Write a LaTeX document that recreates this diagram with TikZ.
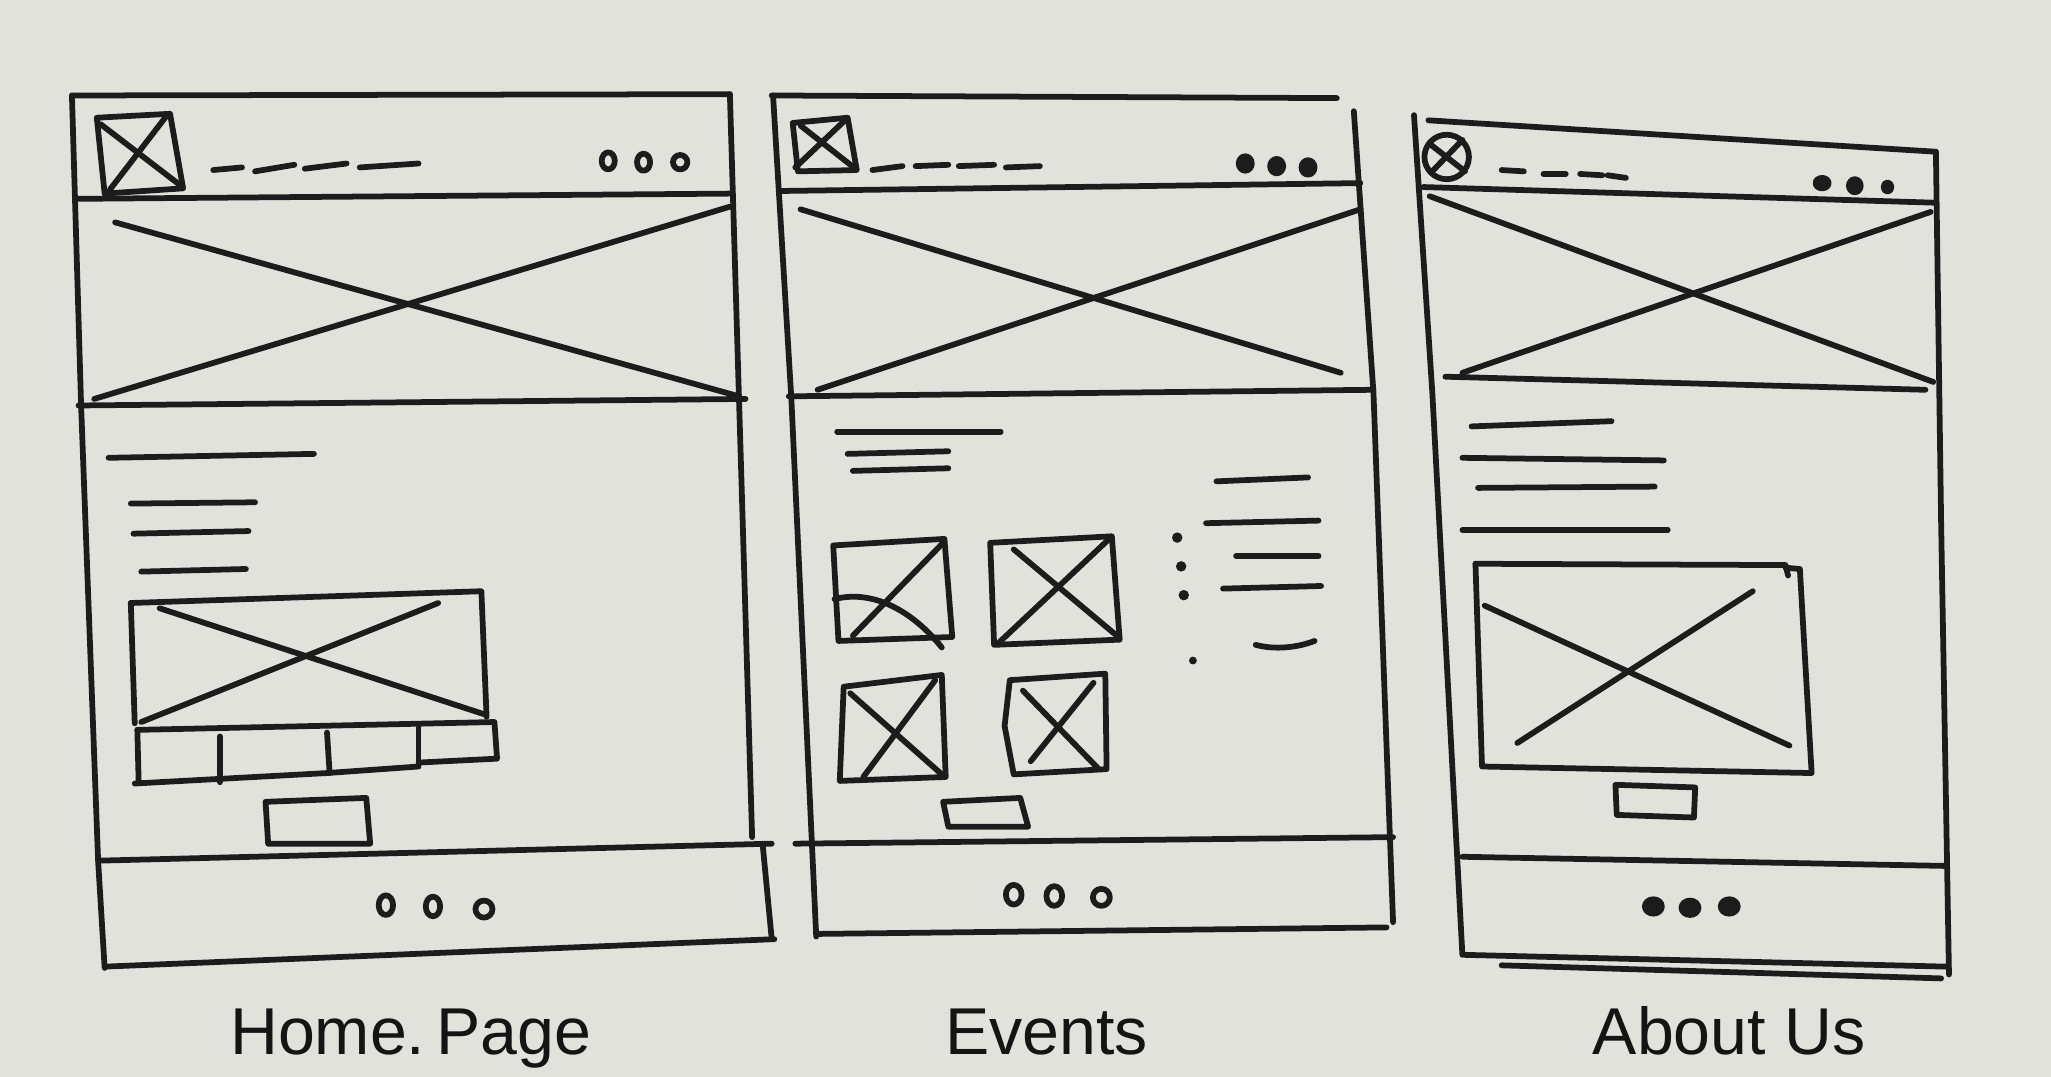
\documentclass[tikz,border=0pt]{standalone}
\usepackage{fontspec}
\setmainfont{Liberation Sans}

\tikzset{every picture/.style={line width=3.3pt}}
\tikzset{
  ink/.style={color={rgb, 255:red, 28; green, 28; blue, 28 }, draw opacity=1, line cap=round, line join=round},
  inkdot/.style={ink, fill={rgb, 255:red, 28; green, 28; blue, 28 }, fill opacity=1},
  pagelabel/.style={anchor=base, inner sep=0.75pt, font=\fontsize{38}{42}\selectfont, color={rgb, 255:red, 20; green, 20; blue, 20 }}
}

\begin{document}
\begin{tikzpicture}[x=0.75pt,y=0.75pt,yscale=-1,xscale=1]
%Paper [id:bg]
\fill [color={rgb, 255:red, 226; green, 226; blue, 221 }] (0,0) rectangle (1568,823) ;
\useasboundingbox (0,0) rectangle (1568,823) ;

%%%%%%%%%%%%%%%% Home page
%Shape: Frame [id:home_frame]
\draw [ink] (55,73) -- (558,72) ;
\draw [ink] (55,73) -- (62,310) -- (75,658) -- (80,740) ;
\draw [ink] (558,72) -- (575,640) ;
\draw [ink] (583,645) -- (590,718) ;
%Straight Lines [id:home_header]
\draw [ink] (60,152) -- (560,148) ;
%Shape: Logo [id:home_logo]
\draw [ink] (74,90) -- (130,87) -- (140,144) -- (80,148) -- cycle ;
\draw [ink] (77,95) -- (137,141) ;
\draw [ink] (127,89) -- (84,145) ;
%Straight Lines [id:home_menu]
\draw [ink] (163,130) -- (185,128) ;
\draw [ink] (195,131) -- (225,126) ;
\draw [ink] (233,129) -- (265,125) ;
\draw [ink] (275,128) -- (320,125) ;
%Shape: Ellipse [id:home_icons]
\draw [ink] (465,123) ellipse (5 and 6.5) ;
\draw [ink] (492,124) ellipse (5 and 6.5) ;
\draw [ink] (520,124) ellipse (5.5 and 5.5) ;
%Shape: Hero [id:home_hero]
\draw [ink] (88,170) -- (565,303) ;
\draw [ink] (558,158) -- (72,305) ;
\draw [ink] (60,310) -- (570,305) ;
%Straight Lines [id:home_text]
\draw [ink] (83,350) -- (240,347) ;
\draw [ink] (100,385) -- (195,384) ;
\draw [ink] (102,408) -- (190,406) ;
\draw [ink] (108,437) -- (188,435) ;
%Shape: Slider [id:home_slider]
\draw [ink] (100,461) -- (368,452) -- (372,548) ;
\draw [ink] (100,461) -- (103,553) ;
\draw [ink] (122,465) -- (370,546) ;
\draw [ink] (335,461) -- (108,552) ;
\draw [ink] (105,558) -- (378,552) -- (380,580) -- (320,583) ;
\draw [ink] (105,558) -- (106,598) ;
\draw [ink] (103,599) -- (250,591) -- (320,586) ;
\draw [ink] (168,563) -- (168,598) ;
\draw [ink] (250,560) -- (252,591) ;
\draw [ink] (320,556) -- (320,585) ;
%Shape: Button [id:home_button]
\draw [ink] (203,613) -- (280,610) -- (283,645) -- (205,645) -- cycle ;
%Shape: Footer [id:home_footer]
\draw [ink] (75,658) -- (590,645) ;
\draw [ink] (295,692) ellipse (5.5 and 7.5) ;
\draw [ink] (331,693) ellipse (5.5 and 7.5) ;
\draw [ink] (370,695) ellipse (6.5 and 6.5) ;
\draw [ink] (80,739) -- (592,718) ;

%%%%%%%%%%%%%%%% Events
%Shape: Frame [id:ev_frame]
\draw [ink] (590,73) -- (1022,75) ;
\draw [ink] (591,73) -- (605,305) -- (624,716) ;
\draw [ink] (1035,85) -- (1050,300) -- (1065,705) ;
\draw [ink] (624,714) -- (1060,709) ;
%Shape: Logo [id:ev_logo]
\draw [ink] (606,94) -- (648,90) -- (655,130) -- (610,131) -- cycle ;
\draw [ink] (608,128) -- (646,92) ;
\draw [ink] (612,96) -- (654,129) ;
%Straight Lines [id:ev_menu]
\draw [ink] (667,130) -- (690,127) ;
\draw [ink] (700,127) -- (725,126) ;
\draw [ink] (733,127) -- (760,126) ;
\draw [ink] (769,128) -- (795,127) ;
%Shape: Ellipse [id:ev_icons]
\draw [inkdot] (952,125) ellipse (5 and 5.5) ;
\draw [inkdot] (976,127) ellipse (5 and 5.5) ;
\draw [inkdot] (1000,128) ellipse (5 and 5.5) ;
%Straight Lines [id:ev_header]
\draw [ink] (598,146) -- (1040,140) ;
%Shape: Hero [id:ev_hero]
\draw [ink] (612,160) -- (1025,285) ;
\draw [ink] (1040,160) -- (625,298) ;
\draw [ink] (603,303) -- (1050,298) ;
%Straight Lines [id:ev_title]
\draw [ink] (640,330) -- (765,330) ;
\draw [ink] (648,347) -- (725,345) ;
\draw [ink] (652,360) -- (725,358) ;
%Straight Lines [id:ev_list]
\draw [ink] (930,368) -- (1000,365) ;
\draw [ink] (922,400) -- (1008,398) ;
\draw [ink] (945,425) -- (1008,425) ;
\draw [ink] (935,450) -- (1010,448) ;
\draw [ink] (960,493) .. controls (975,497) and (992,495) .. (1005,490) ;
%Shape: Ellipse [id:ev_bullets]
\fill [inkdot] (900,411) circle (4) ;
\fill [inkdot] (903,433) circle (4) ;
\fill [inkdot] (905,455) circle (4) ;
\fill [inkdot] (912,505) circle (3) ;
%Shape: Thumbs [id:ev_thumbs]
\draw [ink] (637,417) -- (722,412) -- (728,487) -- (641,490) -- cycle ;
\draw [ink] (722,414) -- (652,486) ;
\draw [ink] (638,458) .. controls (670,450) and (700,470) .. (720,495) ;
\draw [ink] (757,415) -- (850,410) -- (856,489) -- (760,493) -- cycle ;
\draw [ink] (775,420) -- (855,487) ;
\draw [ink] (848,412) -- (764,491) ;
\draw [ink] (645,525) -- (720,516) -- (723,594) -- (642,597) -- cycle ;
\draw [ink] (650,530) -- (720,592) ;
\draw [ink] (715,520) -- (660,594) ;
\draw [ink] (772,520) -- (845,515) -- (846,588) -- (775,592) -- (768,555) -- cycle ;
\draw [ink] (782,528) -- (840,588) ;
\draw [ink] (836,522) -- (788,582) ;
%Shape: Button [id:ev_button]
\draw [ink] (721,613) -- (780,610) -- (786,632) -- (725,632) -- cycle ;
%Shape: Footer [id:ev_footer]
\draw [ink] (608,645) -- (1065,640) ;
\draw [ink] (775,684) ellipse (6 and 7.5) ;
\draw [ink] (806,685) ellipse (6 and 7.5) ;
\draw [ink] (842,686) ellipse (6.5 and 6.5) ;

%%%%%%%%%%%%%%%% About us
%Shape: Frame [id:ab_frame]
\draw [ink] (1081,88) -- (1095,300) -- (1118,730) ;
\draw [ink] (1092,92) -- (1480,116) ;
\draw [ink] (1480,116) -- (1484,400) -- (1490,745) ;
%Shape: Logo [id:ab_logo]
\draw [ink] (1106,120) circle (17) ;
\draw [ink] (1093,110) -- (1120,131) ;
\draw [ink] (1118,107) -- (1094,132) ;
%Straight Lines [id:ab_menu]
\draw [ink] (1148,130) -- (1165,131) ;
\draw [ink] (1180,133) -- (1197,133) ;
\draw [ink] (1208,133) -- (1225,134) ;
\draw [ink] (1229,134) -- (1243,136) ;
%Shape: Ellipse [id:ab_icons]
\draw [inkdot] (1393,140) ellipse (5 and 4) ;
\draw [inkdot] (1418,142) ellipse (4.5 and 5) ;
\draw [inkdot] (1443,143) ellipse (3 and 3.5) ;
%Straight Lines [id:ab_header]
\draw [ink] (1088,143) -- (1480,155) ;
%Shape: Hero [id:ab_hero]
\draw [ink] (1093,150) -- (1478,292) ;
\draw [ink] (1476,162) -- (1118,285) ;
\draw [ink] (1105,288) -- (1472,298) ;
%Straight Lines [id:ab_text]
\draw [ink] (1125,326) -- (1232,322) ;
\draw [ink] (1118,350) -- (1272,352) ;
\draw [ink] (1130,373) -- (1265,372) ;
\draw [ink] (1118,405) -- (1275,405) ;
%Shape: Picture [id:ab_picture]
\draw [ink] (1128,431) -- (1365,432) -- (1367,440) ;
\draw [ink] (1128,431) -- (1133,586) -- (1385,591) -- (1376,435) -- (1365,434) ;
\draw [ink] (1135,463) -- (1368,570) ;
\draw [ink] (1340,452) -- (1160,568) ;
%Shape: Button [id:ab_button]
\draw [ink] (1235,600) -- (1296,602) -- (1295,625) -- (1236,623) -- cycle ;
%Shape: Footer [id:ab_footer]
\draw [ink] (1118,655) -- (1487,662) ;
\draw [inkdot] (1264,693) ellipse (6.5 and 5.5) ;
\draw [inkdot] (1292,694) ellipse (6.5 and 5.5) ;
\draw [inkdot] (1322,693) ellipse (6.5 and 5.5) ;
\draw [ink] (1120,730) -- (1488,739) ;
\draw [ink] (1148,738) -- (1484,748) ;

% Text Node
\draw (314,806) node [pagelabel] (lblhome) {Home.\,Page};
% Text Node
\draw (800,806) node [pagelabel] (lblevents) {Events};
% Text Node
\draw (1322,806) node [pagelabel] (lblabout) {About Us};

\end{tikzpicture}
\end{document}
